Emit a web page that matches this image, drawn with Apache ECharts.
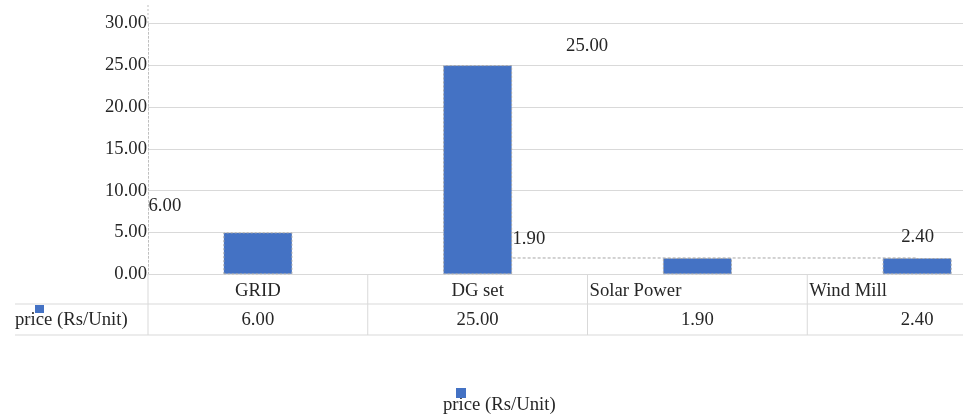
<!DOCTYPE html>
<html><head><meta charset="utf-8">
<script src="https://cdn.jsdelivr.net/npm/echarts@6/dist/echarts.min.js"></script>
<style>html,body{margin:0;padding:0;background:#fff}#c{width:963px;height:417px}</style>
</head><body><div id="c"></div>
<script>
// ---- data ----
const categories = ['GRID', 'DG set', 'Solar Power', 'Wind Mill'];
const seriesName = 'price (Rs/Unit)';
const tableValues = [6.00, 25.00, 1.90, 2.40];      // values printed in table / labels
const barHeights = [5.0, 25.0, 1.95, 1.95];         // bar heights as drawn in the picture
const yTicks = [0, 5, 10, 15, 20, 25, 30];

// ---- styles ----
const FONT = "'Liberation Serif','Times New Roman',serif";
const FS = 18.7;
const TXT = '#262626';
const BLUE = '#4472C4';
const GRIDC = '#d9d9d9';
const labelPos = [[-58.5, -26], [144, -19], [-134, -19], [35, -21]];
const catAlign = ['center', 'center', 'left', 'left'];

const chart = echarts.init(document.getElementById('c'), null, {renderer: 'canvas'});
const option = {
  animation: false,
  grid: {left: 148, top: 23.3, height: 251, width: 879, containLabel: false, outerBoundsMode: 'none'},
  xAxis: {
    type: 'category', data: categories,
    axisLine: {show: true, lineStyle: {color: GRIDC}},
    axisTick: {show: false}, axisLabel: {show: false}, splitLine: {show: false}
  },
  yAxis: {
    type: 'value', min: yTicks[0], max: yTicks[yTicks.length - 1], interval: yTicks[1] - yTicks[0],
    axisLine: {show: true, lineStyle: {color: '#bfbfbf', type: [2, 2]}},
    axisTick: {show: false},
    splitLine: {lineStyle: {color: GRIDC}},
    axisLabel: {formatter: v => v.toFixed(2), fontFamily: FONT, fontSize: FS, color: TXT, margin: 1, padding: [3, 0, 0, 0]}
  },
  series: [
    {
      type: 'line', z: 1, silent: true, showSymbol: false,
      data: categories.map((c, i) => i === 0 ? null : barHeights[2]),
      lineStyle: {color: '#a6a6a6', type: [3, 2], width: 1}
    },
    {
      type: 'bar', name: seriesName, z: 3, barWidth: 69,
      data: barHeights.map((v, i) => ({value: v, label: {position: labelPos[i]}})),
      itemStyle: {color: BLUE, borderColor: '#a6a6a6', borderType: [2, 2], borderWidth: 1},
      label: {
        show: true, formatter: p => tableValues[p.dataIndex].toFixed(2),
        align: 'center', verticalAlign: 'middle',
        fontFamily: FONT, fontSize: FS, color: TXT
      }
    }
  ]
};
chart.setOption(option);

// ---- data table & legend ----
const centers = categories.map(c => chart.convertToPixel({xAxisIndex: 0}, c));
const band = centers[1] - centers[0];
const y0 = chart.convertToPixel({yAxisIndex: 0}, 0);
const font = FS + 'px ' + FONT;
const row1 = 304, row2 = 335;
const g = [];
const line = (x1, y1, x2, y2, color, dash) => g.push({type: 'line', silent: true, z: 10,
  shape: {x1, y1, x2, y2}, style: {stroke: color, lineWidth: 1, lineDash: dash || null}});
const text = (t, x, y, align) => g.push({type: 'text', silent: true, z: 10, x, y,
  style: {text: t, font, fill: TXT, textAlign: align, textVerticalAlign: 'middle'}});

line(148, 5, 148, 23.3, '#bfbfbf', [2, 2]);
centers.forEach((cx, i) => {
  const left = cx - band / 2;
  line(left, y0, left, row2, GRIDC);
  const tx = catAlign[i] === 'left' ? left + 2 : cx;
  text(categories[i], tx, 291, catAlign[i]);
  text(tableValues[i].toFixed(2), cx, 320, 'center');
});
line(15, row1, 963, row1, GRIDC);
line(15, row2, 963, row2, GRIDC);
text(seriesName, 15, 320, 'left');
g.push({type: 'rect', silent: true, z: 11, shape: {x: 35, y: 305, width: 9, height: 8}, style: {fill: BLUE}});
// legend
g.push({type: 'rect', silent: true, z: 11, shape: {x: 456, y: 388, width: 10, height: 10}, style: {fill: BLUE}});
text(seriesName, 443, 405, 'left');

chart.setOption({graphic: {elements: g}});
</script>
</body></html>
